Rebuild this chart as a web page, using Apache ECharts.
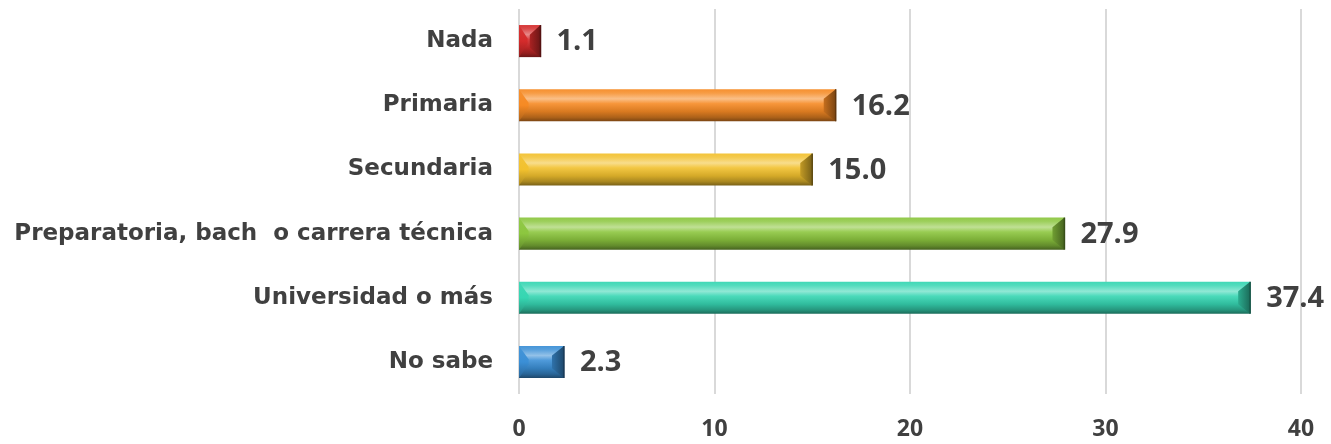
<!DOCTYPE html>
<html>
<head>
<meta charset="utf-8">
<script src="https://cdn.jsdelivr.net/npm/echarts@6/dist/echarts.min.js"></script>
<style>
  html, body { margin: 0; padding: 0; background: #ffffff; }
  #chart { width: 1331px; height: 444px; }
</style>
</head>
<body>
<div id="chart"></div>
<script>
// Escolaridad: porcentaje por nivel
const categories = ['Nada', 'Primaria', 'Secundaria', 'Preparatoria, bach  o carrera técnica', 'Universidad o más', 'No sabe'];
const values = [1.1, 16.2, 15.0, 27.9, 37.4, 2.3];
const barColors = ['#d42b2b', '#f68a24', '#f2c12e', '#8cc63f', '#36d6b2', '#3b8fd6'];
const xTicks = [0, 10, 20, 30, 40];

const FONT = '"Open Sans", "DejaVu Sans", sans-serif';
const CAT_FONT = '"DejaVu Sans", "Open Sans", sans-serif';
const TEXT = '#404040';

function mix(hex, target, t) {
  const n = parseInt(hex.slice(1), 16);
  const r = (n >> 16) & 255, g = (n >> 8) & 255, b = n & 255;
  const tr = target ? 255 : 0;
  const f = c => Math.round(c + (tr - c) * t);
  return 'rgb(' + f(r) + ',' + f(g) + ',' + f(b) + ')';
}
const light = (c, t) => mix(c, true, t);
const dark = (c, t) => mix(c, false, t);

function vGrad(stops) {
  return { type: 'linear', x: 0, y: 0, x2: 0, y2: 1, colorStops: stops.map(s => ({ offset: s[0], color: s[1] })) };
}
function hGrad(stops) {
  return { type: 'linear', x: 0, y: 0, x2: 1, y2: 0, colorStops: stops.map(s => ({ offset: s[0], color: s[1] })) };
}

// Bevelled bar: body with vertical shading plus sloped end caps
function renderBar(params, api) {
  const idx = api.value(0);
  const v = api.value(1);
  const p0 = api.coord([0, idx]);
  const p1 = api.coord([v, idx]);
  const band = api.size([0, 1])[1];
  const h = band * 0.5;
  const x0 = p0[0], x1 = p1[0];
  const y0 = p0[1] - h / 2, y1 = p0[1] + h / 2;
  const w = x1 - x0;
  const c = barColors[idx];
  const bx = Math.min(12, w / 2);
  const by = h * 0.3;

  const children = [];
  // main body
  children.push({
    type: 'rect',
    shape: { x: x0, y: y0, width: w, height: h },
    style: {
      fill: vGrad([
        [0, light(c, 0.05)],
        [0.12, light(c, 0.15)],
        [0.3, light(c, 0.45)],
        [0.45, light(c, 0.1)],
        [0.7, dark(c, 0.12)],
        [0.88, dark(c, 0.3)],
        [1, dark(c, 0.5)]
      ])
    }
  });
  // left cap (lit)
  children.push({
    type: 'polygon',
    shape: { points: [[x0, y0], [x0 + bx * 0.8, y0 + h * 0.42], [x0 + bx * 0.8, y1 - h * 0.42], [x0, y1]] },
    style: {
      fill: vGrad([
        [0, light(c, 0.05)],
        [0.5, c],
        [1, dark(c, 0.3)]
      ])
    }
  });
  // right cap (shaded)
  children.push({
    type: 'polygon',
    shape: { points: [[x1, y0], [x1 - bx, y0 + by], [x1 - bx, y1 - by], [x1, y1]] },
    style: {
      fill: hGrad([
        [0, dark(c, 0.2)],
        [1, dark(c, 0.5)]
      ])
    }
  });
  // dark edge at the bar end
  children.push({
    type: 'line',
    shape: { x1: x1, y1: y0, x2: x1, y2: y1 },
    style: { stroke: dark(c, 0.6), lineWidth: 1.5 }
  });
  // value label
  children.push({
    type: 'text',
    style: {
      x: x1 + 16, y: p0[1] + 1,
      text: v.toFixed(1),
      fill: TEXT,
      font: 'bold 29px ' + FONT,
      verticalAlign: 'middle',
      align: 'left'
    }
  });
  return { type: 'group', children: children };
}

const chart = echarts.init(document.getElementById('chart'), null, { renderer: 'canvas' });
chart.setOption({
  animation: false,
  backgroundColor: '#ffffff',
  grid: { left: 519, right: 30, top: 9, bottom: 50, containLabel: false },
  xAxis: {
    type: 'value',
    min: xTicks[0],
    max: xTicks[xTicks.length - 1],
    interval: 10,
    axisLine: { show: false },
    axisTick: { show: false },
    splitLine: { show: true, lineStyle: { color: '#d9d9d9', width: 2 } },
    axisLabel: { color: TEXT, fontSize: 23, fontWeight: 'bold', fontFamily: FONT, margin: 24 }
  },
  yAxis: {
    type: 'category',
    data: categories,
    inverse: true,
    axisLine: { show: false },
    axisTick: { show: false },
    axisLabel: { color: TEXT, fontSize: 23, fontWeight: 'bold', fontFamily: CAT_FONT, margin: 26 }
  },
  series: [{
    type: 'custom',
    renderItem: renderBar,
    encode: { x: 1, y: 0 },
    data: values.map((v, i) => [i, v])
  }]
});
</script>
</body>
</html>
